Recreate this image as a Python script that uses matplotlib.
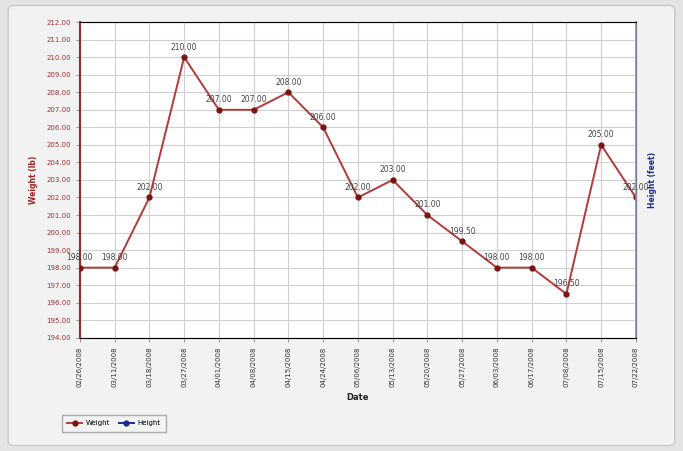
import matplotlib.pyplot as plt
import numpy as np
from matplotlib.patches import FancyBboxPatch

# data
dates = ['02/26/2008', '03/11/2008', '03/18/2008', '03/27/2008', '04/01/2008',
         '04/08/2008', '04/15/2008', '04/24/2008', '05/06/2008', '05/13/2008',
         '05/20/2008', '05/27/2008', '06/03/2008', '06/17/2008', '07/08/2008',
         '07/15/2008', '07/22/2008']
weight = [198.00, 198.00, 202.00, 210.00, 207.00, 207.00, 208.00, 206.00, 202.00,
          203.00, 201.00, 199.50, 198.00, 198.00, 196.50, 205.00, 202.00]
height = []

weight_color = '#b33a3a'
marker_color = '#7a1414'
height_color = '#1c2a8c'

fig = plt.figure(figsize=(6.83, 4.51), dpi=100)
fig.patch.set_facecolor('#e4e4e4')

# light panel behind the chart
panel = FancyBboxPatch((0.012, 0.012), 0.976, 0.976, boxstyle='round,pad=0,rounding_size=0.01',
                       transform=fig.transFigure, facecolor='#f2f2f2',
                       edgecolor='#c8c8c8', linewidth=1.0, zorder=-10)
fig.patches.append(panel)

ax = fig.add_axes([0.117, 0.251, 0.814, 0.700])
x = np.arange(len(dates))

ax.plot(x, weight, color=weight_color, linewidth=1.4, marker='o', markersize=3.5,
        markerfacecolor=marker_color, markeredgecolor=marker_color, zorder=3, label='Weight')

for xi, yi in zip(x, weight):
    ax.annotate('%.2f' % yi, (xi, yi), xytext=(0, 4), textcoords='offset points',
                ha='center', va='bottom', fontsize=5.5, color='#444444', zorder=4)

ax.set_xlim(0, len(dates) - 1)
ax.set_ylim(194, 212)
ax.set_yticks(np.arange(194, 213, 1))
ax.set_yticklabels(['%.2f' % v for v in np.arange(194, 213, 1)], fontsize=5, color='#a03030')
ax.set_xticks(x)
ax.set_xticklabels(dates, rotation=90, fontsize=5, color='#333333')
ax.tick_params(axis='both', length=3, width=0.6, colors='#888888')
ax.tick_params(axis='y', labelcolor='#a03030')
ax.tick_params(axis='x', labelcolor='#333333')

ax.grid(True, color='#cfcfcf', linewidth=0.8)
ax.set_axisbelow(True)
ax.set_facecolor('white')
for side in ['top', 'bottom']:
    ax.spines[side].set_color('#9a9a9a')
ax.spines['left'].set_color('#8a3030')
ax.spines['left'].set_linewidth(1.5)

ax.set_xlabel('Date', fontsize=6, fontweight='bold', color='#222222', labelpad=4)
ax.set_ylabel('Weight (lb)', fontsize=5.5, fontweight='bold', color='#a02020', labelpad=6)

ax2 = ax.twinx()
ax2.plot(height, height, color=height_color, linewidth=1.4, marker='o', markersize=3.5,
         label='Height')
ax2.set_yticks([])
ax2.spines['right'].set_color('#8a96b0')
ax2.spines['right'].set_linewidth(1.2)
ax2.spines['left'].set_visible(False)
ax2.set_ylabel('Height (feet)', fontsize=5.5, fontweight='bold', color=height_color, labelpad=9)

h1, l1 = ax.get_legend_handles_labels()
h2, l2 = ax2.get_legend_handles_labels()
leg = fig.legend(h1 + h2, l1 + l2, loc='lower left', bbox_to_anchor=(0.085, 0.035),
                 ncol=2, fontsize=5, frameon=True, fancybox=False, handlelength=2.2,
                 columnspacing=1.2, borderpad=0.8, handletextpad=0.5)
leg.get_frame().set_edgecolor('#999999')
leg.get_frame().set_facecolor('#f4f4f4')

fig.savefig('out.png', dpi=100, facecolor=fig.get_facecolor())
